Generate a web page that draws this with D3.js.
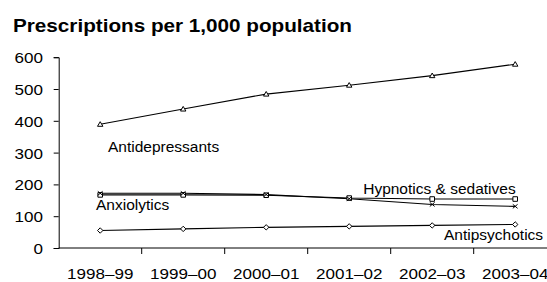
<!DOCTYPE html>
<html>
<head>
<meta charset="utf-8">
<script src="https://cdn.jsdelivr.net/npm/d3@7"></script>
<style>
  body { margin: 0; background: #fff; }
  text { font-family: "Liberation Sans", Arial, sans-serif; fill: #000; }
</style>
</head>
<body>
<div id="chart"></div>
<script>
    // chart data
    var years = ["1998\u201399", "1999\u201300", "2000\u201301", "2001\u201302", "2002\u201303", "2003\u201304"];
    var antidepressants = [389, 437, 484, 512, 542, 578];
    var anxiolytics = [172, 172, 168, 155, 137, 131];
    var hypnotics = [167, 167, 166, 157, 154, 154];
    var antipsychotics = [55, 60, 65, 68, 71, 74];
    var yTicks = [0, 100, 200, 300, 400, 500, 600];

    var series = [
        {name: "Antidepressants", values: antidepressants, marker: "triangle"},
        {name: "Hypnotics & sedatives", values: hypnotics, marker: "square"},
        {name: "Anxiolytics", values: anxiolytics, marker: "cross"},
        {name: "Antipsychotics", values: antipsychotics, marker: "diamond"}
    ];

    var width = 547, height = 282;
    var numScale = 1.1; // tick numbers are drawn a bit wider in the original

    var svg = d3.select("#chart").append("svg")
        .attr("width", width)
        .attr("height", height);

    var x = d3.scaleBand().domain(years).range([58.7, 556.7]);
    var y = d3.scaleLinear().domain([0, 600]).range([248, 57.2]);

    svg.append("text")
        .attr("transform", "translate(13,32) scale(1.15,1)")
        .style("font-size", "18px").style("font-weight", "bold")
        .text("Prescriptions per 1,000 population");

    // y axis
    var yAxis = svg.append("g")
        .attr("transform", "translate(" + x.range()[0] + ",0)")
        .call(d3.axisLeft(y).tickValues(yTicks).tickSize(5).tickPadding(9.3).tickFormat(d3.format("d")));
    yAxis.selectAll("text")
        .style("font-size", "15.5px")
        .attr("dy", "0.36em")
        .attr("transform", "scale(" + numScale + ",1)");

    // x axis, ticks at band edges
    var xAxis = svg.append("g").attr("transform", "translate(0," + y(0) + ")");
    xAxis.append("line")
        .attr("x1", x.range()[0]).attr("x2", width + 10)
        .attr("stroke", "#000");
    xAxis.selectAll(".tk").data(years.slice(1))
        .enter().append("line")
        .attr("x1", function (d) { return x(d); })
        .attr("x2", function (d) { return x(d); })
        .attr("y1", 0).attr("y2", 6)
        .attr("stroke", "#000");
    xAxis.selectAll(".lbl").data(years)
        .enter().append("text")
        .attr("transform", function (d) {
            return "translate(" + (x(d) + x.bandwidth() / 2) + ",31) scale(" + numScale + ",1)";
        })
        .attr("text-anchor", "middle")
        .style("font-size", "15.5px")
        .text(function (d) { return d; });
    svg.selectAll(".domain, .tick line").attr("stroke", "#000");

    var cx = function (d, i) { return x(years[i]) + x.bandwidth() / 2; };
    var line = d3.line().x(cx).y(function (d) { return y(d); });

    var shapes = {
        triangle: "M0,-2.6L2.7,2L-2.7,2Z",
        square: "M-2.3,-2.3H2.3V2.3H-2.3Z",
        diamond: "M0,-2.7L2.7,0L0,2.7L-2.7,0Z",
        cross: "M-2.4,-2L2.4,2M-2.4,2L2.4,-2"
    };

    series.forEach(function (s) {
        svg.append("path")
            .attr("d", line(s.values))
            .attr("fill", "none")
            .attr("stroke", "#000")
            .attr("stroke-width", 1.1);
    });
    series.forEach(function (s) {
        svg.append("g").selectAll("path")
            .data(s.values)
            .enter().append("path")
            .attr("transform", function (d, i) {
                return "translate(" + cx(d, i) + "," + y(d) + ")";
            })
            .attr("d", shapes[s.marker])
            .attr("fill", s.marker === "cross" ? "none" : "#fff")
            .attr("stroke", "#000")
            .attr("stroke-width", 1);
    });

    // series labels, placed next to their lines
    var labels = [
        {name: "Antidepressants", x: cx(0, 0) + 7.8, v: 303},
        {name: "Anxiolytics", x: cx(0, 0) - 4.2, v: 119.5},
        {name: "Hypnotics & sedatives", x: cx(0, 3) + 14, v: 170},
        {name: "Antipsychotics", x: cx(0, 4) + 11.8, v: 25}
    ];
    svg.append("g").selectAll("text")
        .data(labels)
        .enter().append("text")
        .attr("x", function (d) { return d.x; })
        .attr("y", function (d) { return y(d.v); })
        .style("font-size", "15.5px")
        .text(function (d) { return d.name; });
</script>
</body>
</html>
